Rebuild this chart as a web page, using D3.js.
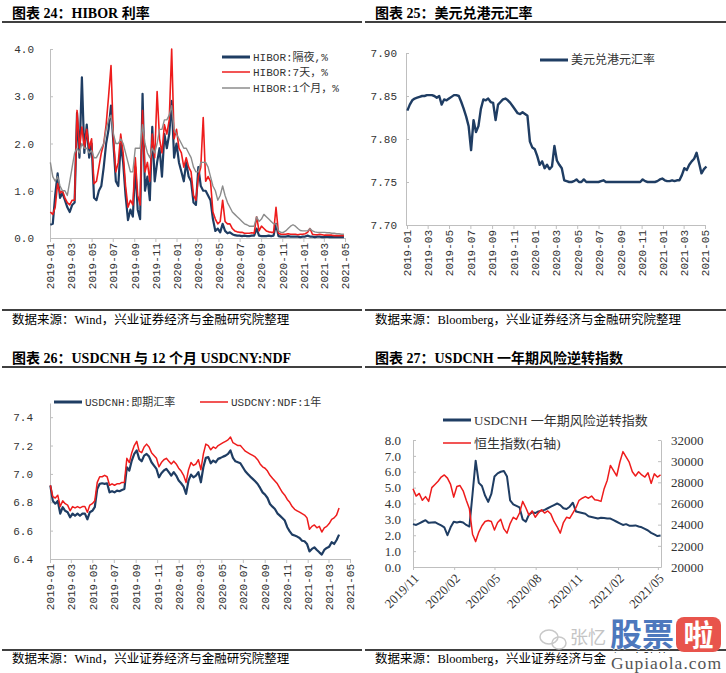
<!DOCTYPE html>
<html><head><meta charset="utf-8">
<script src="https://cdn.jsdelivr.net/npm/d3@7"></script>
<style>body{margin:0;background:#fff}svg{display:block}</style>
</head><body>
<svg id="c" width="726" height="673"></svg>
<script>
// ---------- DATA ----------
const xTicksMonthly = ["2019-01","2019-03","2019-05","2019-07","2019-09","2019-11","2020-01","2020-03","2020-05","2020-07","2020-09","2020-11","2021-01","2021-03","2021-05"];
const xTicks27 = ["2019/11","2020/02","2020/05","2020/08","2020/11","2021/02","2021/05"];

// Chart 24: HIBOR (weekly from 2019-01-02)
const hiborStart = "2019-01-02";
const hiborON = [0.28,0.30,0.90,1.37,0.85,0.95,0.80,0.65,0.55,0.70,0.75,2.65,1.70,3.40,1.80,2.40,1.70,2.00,0.85,0.80,1.00,1.10,1.50,2.00,2.30,2.80,2.00,1.20,1.10,2.00,1.60,0.90,0.38,0.60,0.45,1.50,0.60,0.40,3.05,1.00,1.30,0.80,2.35,1.20,1.60,1.90,1.30,2.20,1.90,2.20,2.90,1.70,2.00,1.60,1.40,1.20,1.60,1.30,1.20,0.75,0.70,1.50,1.10,1.00,1.00,0.90,0.80,0.40,0.15,0.20,0.12,0.30,0.15,0.10,0.12,0.08,0.06,0.05,0.05,0.04,0.05,0.04,0.04,0.05,0.05,0.20,0.05,0.04,0.04,0.04,0.05,0.04,0.05,0.30,0.04,0.03,0.03,0.03,0.04,0.03,0.03,0.03,0.03,0.02,0.03,0.03,0.05,0.03,0.03,0.02,0.03,0.03,0.02,0.02,0.03,0.02,0.02,0.02,0.02,0.02,0.02,0.02];
const hibor7D = [0.55,0.50,0.65,1.15,0.95,1.00,0.85,0.75,0.70,0.80,0.80,2.70,1.90,2.35,1.90,2.30,1.90,2.10,1.15,1.20,1.50,1.80,2.00,2.40,3.00,3.65,2.10,1.40,1.60,2.20,1.80,1.10,0.65,0.80,0.70,1.70,0.90,0.70,2.70,1.40,1.60,1.20,2.20,1.70,3.10,2.10,1.80,2.40,2.20,2.50,4.00,2.10,2.30,1.90,1.80,1.50,1.70,1.50,1.40,0.90,0.80,1.30,1.50,2.55,1.20,1.30,1.20,0.55,0.40,0.30,0.35,0.80,0.35,0.30,0.30,0.20,0.15,0.13,0.12,0.12,0.10,0.10,0.10,0.11,0.10,0.45,0.15,0.25,0.20,0.15,0.13,0.12,0.12,0.65,0.10,0.08,0.08,0.08,0.09,0.08,0.08,0.08,0.07,0.08,0.08,0.09,0.12,0.20,0.08,0.07,0.07,0.08,0.07,0.06,0.06,0.06,0.06,0.05,0.05,0.05,0.05,0.05];
const hibor1M = [1.60,1.30,1.20,1.30,1.10,1.00,1.00,0.90,1.20,1.50,1.80,1.90,1.80,2.00,1.90,1.90,1.80,1.85,1.70,1.70,1.80,1.90,2.00,2.30,2.50,2.60,2.20,2.00,2.00,2.10,2.00,1.80,1.60,1.40,1.40,1.90,1.90,1.90,2.40,2.00,1.80,1.70,1.90,1.80,2.00,2.30,2.30,2.50,2.50,2.60,2.80,2.30,2.20,2.10,2.00,1.90,1.90,1.80,1.70,1.50,1.40,1.40,1.60,1.60,1.60,1.50,1.30,1.10,1.00,0.80,0.90,1.10,0.90,0.75,0.65,0.55,0.50,0.45,0.40,0.35,0.30,0.28,0.25,0.25,0.25,0.45,0.35,0.40,0.50,0.45,0.40,0.35,0.30,0.30,0.15,0.12,0.12,0.15,0.20,0.25,0.28,0.25,0.20,0.16,0.15,0.15,0.15,0.20,0.15,0.13,0.12,0.12,0.12,0.12,0.11,0.11,0.10,0.10,0.09,0.09,0.08,0.08];

// Chart 25: USD/HKD (weekly from 2019-01-02)
const hkdStart = "2019-01-02";
const usdhkd = [7.833,7.840,7.845,7.847,7.848,7.849,7.850,7.850,7.851,7.851,7.851,7.850,7.848,7.850,7.840,7.846,7.845,7.847,7.849,7.851,7.851,7.850,7.843,7.835,7.826,7.815,7.787,7.822,7.808,7.815,7.835,7.846,7.845,7.847,7.843,7.842,7.822,7.840,7.843,7.846,7.847,7.845,7.842,7.838,7.834,7.830,7.829,7.831,7.829,7.827,7.797,7.790,7.788,7.780,7.770,7.774,7.766,7.770,7.765,7.768,7.792,7.775,7.770,7.766,7.752,7.751,7.750,7.750,7.751,7.753,7.750,7.750,7.753,7.750,7.750,7.750,7.750,7.750,7.750,7.751,7.752,7.750,7.750,7.750,7.750,7.750,7.750,7.750,7.750,7.750,7.750,7.750,7.750,7.750,7.750,7.750,7.753,7.751,7.750,7.750,7.750,7.750,7.751,7.753,7.754,7.752,7.751,7.751,7.752,7.751,7.752,7.752,7.758,7.766,7.764,7.770,7.774,7.777,7.784,7.772,7.760,7.765,7.768];

// Chart 26: USDCNH spot & 1Y NDF (weekly from 2019-01-02)
const cnhStart = "2019-01-02";
const usdcnh = [6.918,6.81,6.79,6.81,6.72,6.765,6.74,6.73,6.694,6.72,6.705,6.72,6.705,6.72,6.72,6.68,6.73,6.74,6.765,6.894,6.93,6.934,6.93,6.934,6.87,6.878,6.87,6.882,6.878,6.887,6.894,7.047,7.024,7.094,7.141,7.165,7.106,7.089,7.129,7.141,7.122,7.082,7.059,7.035,6.976,7.005,7.024,7.035,7.012,6.988,7.012,6.988,6.953,6.934,6.91,6.859,6.953,6.995,6.976,6.988,7.012,6.941,7.047,7.113,7.118,7.075,7.094,7.082,7.106,7.113,7.122,7.129,7.141,7.165,7.113,7.089,7.082,7.075,7.047,7.019,7.0,6.981,6.965,6.948,6.929,6.901,6.87,6.854,6.83,6.788,6.769,6.753,6.722,6.706,6.689,6.671,6.624,6.595,6.572,6.565,6.558,6.548,6.529,6.525,6.506,6.454,6.471,6.482,6.464,6.447,6.431,6.464,6.478,6.487,6.518,6.506,6.534,6.572];
const usdcnyNdf = [6.92,6.84,6.83,6.85,6.77,6.81,6.79,6.78,6.74,6.77,6.76,6.77,6.76,6.77,6.77,6.73,6.78,6.79,6.81,6.94,6.98,6.98,6.99,6.98,6.92,6.93,6.92,6.93,6.93,6.94,6.94,7.11,7.08,7.15,7.2,7.23,7.16,7.15,7.19,7.21,7.19,7.15,7.13,7.11,7.05,7.08,7.1,7.11,7.09,7.07,7.09,7.07,7.04,7.02,6.99,6.94,7.03,7.08,7.06,7.07,7.1,7.03,7.14,7.21,7.2,7.17,7.19,7.18,7.2,7.21,7.22,7.23,7.24,7.26,7.22,7.21,7.2,7.2,7.18,7.16,7.15,7.14,7.13,7.12,7.1,7.07,7.05,7.04,7.02,6.99,6.97,6.95,6.93,6.9,6.87,6.85,6.82,6.8,6.77,6.75,6.74,6.73,6.72,6.71,6.69,6.61,6.63,6.64,6.62,6.63,6.59,6.62,6.63,6.65,6.68,6.69,6.71,6.76];

// Chart 27: USDCNH 1Y risk reversal (left) & Hang Seng (right), weekly from 2019-11-01
const rrStart = "2019-11-01";
const riskReversal = [2.7,2.65,2.75,2.85,2.95,2.78,2.8,2.82,2.72,2.62,2.5,2.0,2.5,2.85,2.8,2.85,2.8,2.65,2.55,4.6,6.7,5.3,5.1,4.5,4.1,4.6,5.7,5.9,6.0,6.05,5.7,4.2,3.95,3.85,3.75,3.0,2.85,3.3,3.45,3.4,3.5,3.55,3.6,3.7,3.8,3.9,4.0,3.9,3.7,3.65,3.8,4.05,3.5,3.45,3.4,3.35,3.2,3.15,3.1,3.05,3.1,3.08,3.05,3.05,2.95,2.85,2.75,2.65,2.7,2.6,2.6,2.62,2.55,2.5,2.4,2.3,2.15,2.05,1.95,1.98];
const hangSeng = [27400,26700,26950,26300,26650,26200,27500,27800,28100,28500,28700,28400,27800,26600,27600,27700,27200,26300,25500,23100,22400,23300,23900,24300,24400,24300,23500,24200,24500,23600,23200,24100,24700,24500,25100,26200,25600,24900,25300,24700,25100,25400,25100,25300,25000,24300,23800,23200,24200,24700,24600,25100,25600,26300,26500,26650,26500,26700,26350,26300,26200,27400,28200,29600,29100,28600,29900,30900,30400,29900,29000,28600,29000,28700,28500,28900,27900,28800,28500,28700];

// ---------- STYLE ----------
const NAVY = "#1f3d63", RED = "#ee1c1c", GREY = "#8c8c8c", AXIS = "#bfbfbf", TXT = "#333";
const MONO = "'Liberation Mono','Noto Sans CJK SC',monospace";
const SERIF = "'Liberation Serif','Noto Sans CJK SC',serif";

const svg = d3.select("#c");
const parse = d3.timeParse("%Y-%m-%d");
const parseYM = d3.timeParse("%Y-%m");
const parseYS = d3.timeParse("%Y/%m");
const weekly = (start, n) => d3.range(n).map(i => d3.timeDay.offset(parse(start), 7 * i));

function frame(x0, x1, titleY, ruleY, footRuleY, footY, title, foot) {
  svg.append("text").attr("x", x0 + 10).attr("y", titleY).text(title)
    .attr("font-family", SERIF).attr("font-weight", "bold").attr("font-size", 14).attr("fill", "#000");
  svg.append("line").attr("x1", x0).attr("x2", x1).attr("y1", ruleY).attr("y2", ruleY).attr("stroke", "#000").attr("stroke-width", 1.3);
  svg.append("line").attr("x1", x0).attr("x2", x1).attr("y1", footRuleY).attr("y2", footRuleY).attr("stroke", "#000").attr("stroke-width", 1.3);
  svg.append("text").attr("x", x0 + 10).attr("y", footY).text(foot)
    .attr("font-family", SERIF).attr("font-size", 12.5).attr("fill", "#000");
}
function styleAxis(g, font, size) {
  g.select(".domain").attr("stroke", AXIS);
  g.selectAll(".tick line").attr("stroke", AXIS);
  g.selectAll("text").attr("fill", TXT).attr("font-family", font).attr("font-size", size);
}
function yAxisLeft(y, xPos, vals, fmt, pad, font, size) {
  const g = svg.append("g").attr("transform", `translate(${xPos},0)`)
    .call(d3.axisLeft(y).tickValues(vals).tickFormat(fmt).tickSize(-3).tickSizeOuter(0).tickPadding(pad));
  styleAxis(g, font, size);
}
function xAxisRot(x, yPos) {
  const g = svg.append("g").attr("transform", `translate(0,${yPos})`)
    .call(d3.axisBottom(x).tickValues(xTicksMonthly.map(parseYM)).tickFormat(d3.timeFormat("%Y-%m")).tickSize(4).tickSizeOuter(0));
  styleAxis(g, MONO, 11);
  g.selectAll("text").attr("transform", "rotate(-90)").attr("text-anchor", "end")
    .attr("x", -5).attr("y", 0).attr("dy", "0.35em");
}
function path(dates, vals, x, y, color, w) {
  svg.append("path").datum(vals.map((v, i) => [dates[i], v]))
    .attr("fill", "none").attr("stroke", color).attr("stroke-width", w).attr("stroke-linejoin", "round")
    .attr("d", d3.line().x(d => x(d[0])).y(d => y(d[1])));
}
function legend(x, y, color, w, label, font, size) {
  svg.append("line").attr("x1", x).attr("x2", x + 28).attr("y1", y).attr("y2", y).attr("stroke", color).attr("stroke-width", w);
  svg.append("text").attr("x", x + 31).attr("y", y).attr("dy", "0.35em").text(label)
    .attr("font-family", font).attr("font-size", size).attr("fill", TXT);
}

// ---------- FRAMES ----------
frame(2, 362, 18, 22, 310, 324, "图表 24：HIBOR 利率", "数据来源：Wind，兴业证券经济与金融研究院整理");
frame(365, 726, 18, 22, 310, 324, "图表 25：美元兑港元汇率", "数据来源：Bloomberg，兴业证券经济与金融研究院整理");
frame(2, 362, 363, 367, 650, 663, "图表 26：USDCNH 与 12 个月 USDCNY:NDF", "数据来源：Wind，兴业证券经济与金融研究院整理");
frame(365, 726, 363, 367, 650, 663, "图表 27：USDCNH 一年期风险逆转指数", "数据来源：Bloomberg，兴业证券经济与金融研究院整理");

// ---------- CHART 24 ----------
{
  const x = d3.scaleTime().domain([parseYM("2019-01"), parseYM("2021-05")]).range([50, 345]);
  const y = d3.scaleLinear().domain([0, 4]).range([238, 49]);
  yAxisLeft(y, 50, [0, 1, 2, 3, 4], d3.format(".1f"), 16, MONO, 11);
  xAxisRot(x, 238);
  const d = weekly(hiborStart, hiborON.length);
  path(d, hiborON, x, y, NAVY, 2.2);
  path(d, hibor7D, x, y, RED, 1.6);
  path(d, hibor1M, x, y, GREY, 1.4);
  legend(222, 57, NAVY, 3, "HIBOR:隔夜,%", MONO, 11);
  legend(222, 72, RED, 1.5, "HIBOR:7天，%", MONO, 11);
  legend(222, 88, GREY, 1.5, "HIBOR:1个月，%", MONO, 11);
}
// ---------- CHART 25 ----------
{
  const x = d3.scaleTime().domain([parseYM("2019-01"), parseYM("2021-05")]).range([407, 705]);
  const y = d3.scaleLinear().domain([7.70, 7.90]).range([225, 53]);
  yAxisLeft(y, 406, [7.70, 7.75, 7.80, 7.85, 7.90], d3.format(".2f"), 9, MONO, 11);
  xAxisRot(x, 225);
  path(weekly(hkdStart, usdhkd.length), usdhkd, x, y, NAVY, 2.4);
  legend(540, 60, NAVY, 3, "美元兑港元汇率", MONO, 12);
}
// ---------- CHART 26 ----------
{
  const x = d3.scaleTime().domain([parseYM("2019-01"), parseYM("2021-05")]).range([50, 350]);
  const y = d3.scaleLinear().domain([6.4, 7.5]).range([559, 403]);
  yAxisLeft(y, 50, [6.4, 6.6, 6.8, 7.0, 7.2, 7.4], d3.format(".1f"), 17, MONO, 11);
  xAxisRot(x, 559);
  const d = weekly(cnhStart, usdcnh.length);
  path(d, usdcnh, x, y, NAVY, 2.2);
  path(d, usdcnyNdf, x, y, RED, 1.5);
  legend(54, 402, NAVY, 3, "USDCNH:即期汇率", MONO, 11);
  legend(200, 402, RED, 1.5, "USDCNY:NDF:1年", MONO, 11);
}
// ---------- CHART 27 ----------
{
  const x = d3.scaleTime().domain([parse("2019-11-01"), parse("2021-05-08")]).range([413, 661]);
  const yL = d3.scaleLinear().domain([0, 8]).range([567, 440]);
  const yR = d3.scaleLinear().domain([20000, 32000]).range([567, 440]);
  yAxisLeft(yL, 413, d3.range(0, 9), d3.format(".1f"), 12, SERIF, 13);
  const gR = svg.append("g").attr("transform", "translate(661,0)")
    .call(d3.axisRight(yR).tickValues(d3.range(20000, 32001, 2000)).tickFormat(d3.format("d")).tickSize(-3).tickSizeOuter(0).tickPadding(10));
  styleAxis(gR, SERIF, 13);
  const gX = svg.append("g").attr("transform", "translate(0,567)")
    .call(d3.axisBottom(x).tickValues(xTicks27.map(parseYS)).tickFormat(d3.timeFormat("%Y/%m")).tickSize(3).tickSizeOuter(0));
  styleAxis(gX, SERIF, 13);
  gX.selectAll("text").attr("transform", "translate(3,9) rotate(-45)").attr("text-anchor", "end")
    .attr("x", 0).attr("y", 0).attr("dy", "0.35em");
  const d = weekly(rrStart, riskReversal.length);
  path(d, riskReversal, x, yL, NAVY, 2);
  path(d, hangSeng, x, yR, RED, 1.5);
  legend(443, 420, NAVY, 3, "USDCNH 一年期风险逆转指数", SERIF, 13);
  legend(443, 443, RED, 1.5, "恒生指数(右轴)", SERIF, 13);
}
// ---------- WATERMARK ----------
{
  const w = svg.append("g");
  w.append("rect").attr("x", 606).attr("y", 653).attr("width", 120).attr("height", 20).attr("fill", "#fff");
  w.append("ellipse").attr("cx", 549).attr("cy", 637).attr("rx", 9).attr("ry", 7).attr("fill", "none").attr("stroke", "#c8c8c8").attr("stroke-width", 1.5);
  w.append("ellipse").attr("cx", 559).attr("cy", 643).attr("rx", 7).attr("ry", 6).attr("fill", "none").attr("stroke", "#c8c8c8").attr("stroke-width", 1.5);
  w.append("text").attr("x", 570).attr("y", 644).text("张忆").attr("font-family", "'Noto Sans CJK SC'").attr("font-size", 18).attr("fill", "#c4c4c4");
  w.append("text").attr("x", 610).attr("y", 646).text("股票").attr("font-family", "'Noto Sans CJK SC'").attr("font-weight", "bold")
    .attr("font-size", 32).attr("fill", "#4d78bd").attr("stroke", "#fff").attr("stroke-width", 1).attr("paint-order", "stroke");
  w.append("rect").attr("x", 676).attr("y", 617).attr("width", 45).attr("height", 35).attr("rx", 8).attr("fill", "#e8544c");
  w.append("text").attr("x", 698.5).attr("y", 646).attr("text-anchor", "middle").text("啦").attr("font-family", "'Noto Sans CJK SC'")
    .attr("font-weight", "bold").attr("font-size", 30).attr("fill", "#fff");
  w.append("text").attr("x", 611).attr("y", 669).text("Gupiaola.com").attr("font-family", SERIF).attr("font-size", 17.5)
    .attr("fill", "#555").attr("textLength", 110);
}
</script>
</body></html>
